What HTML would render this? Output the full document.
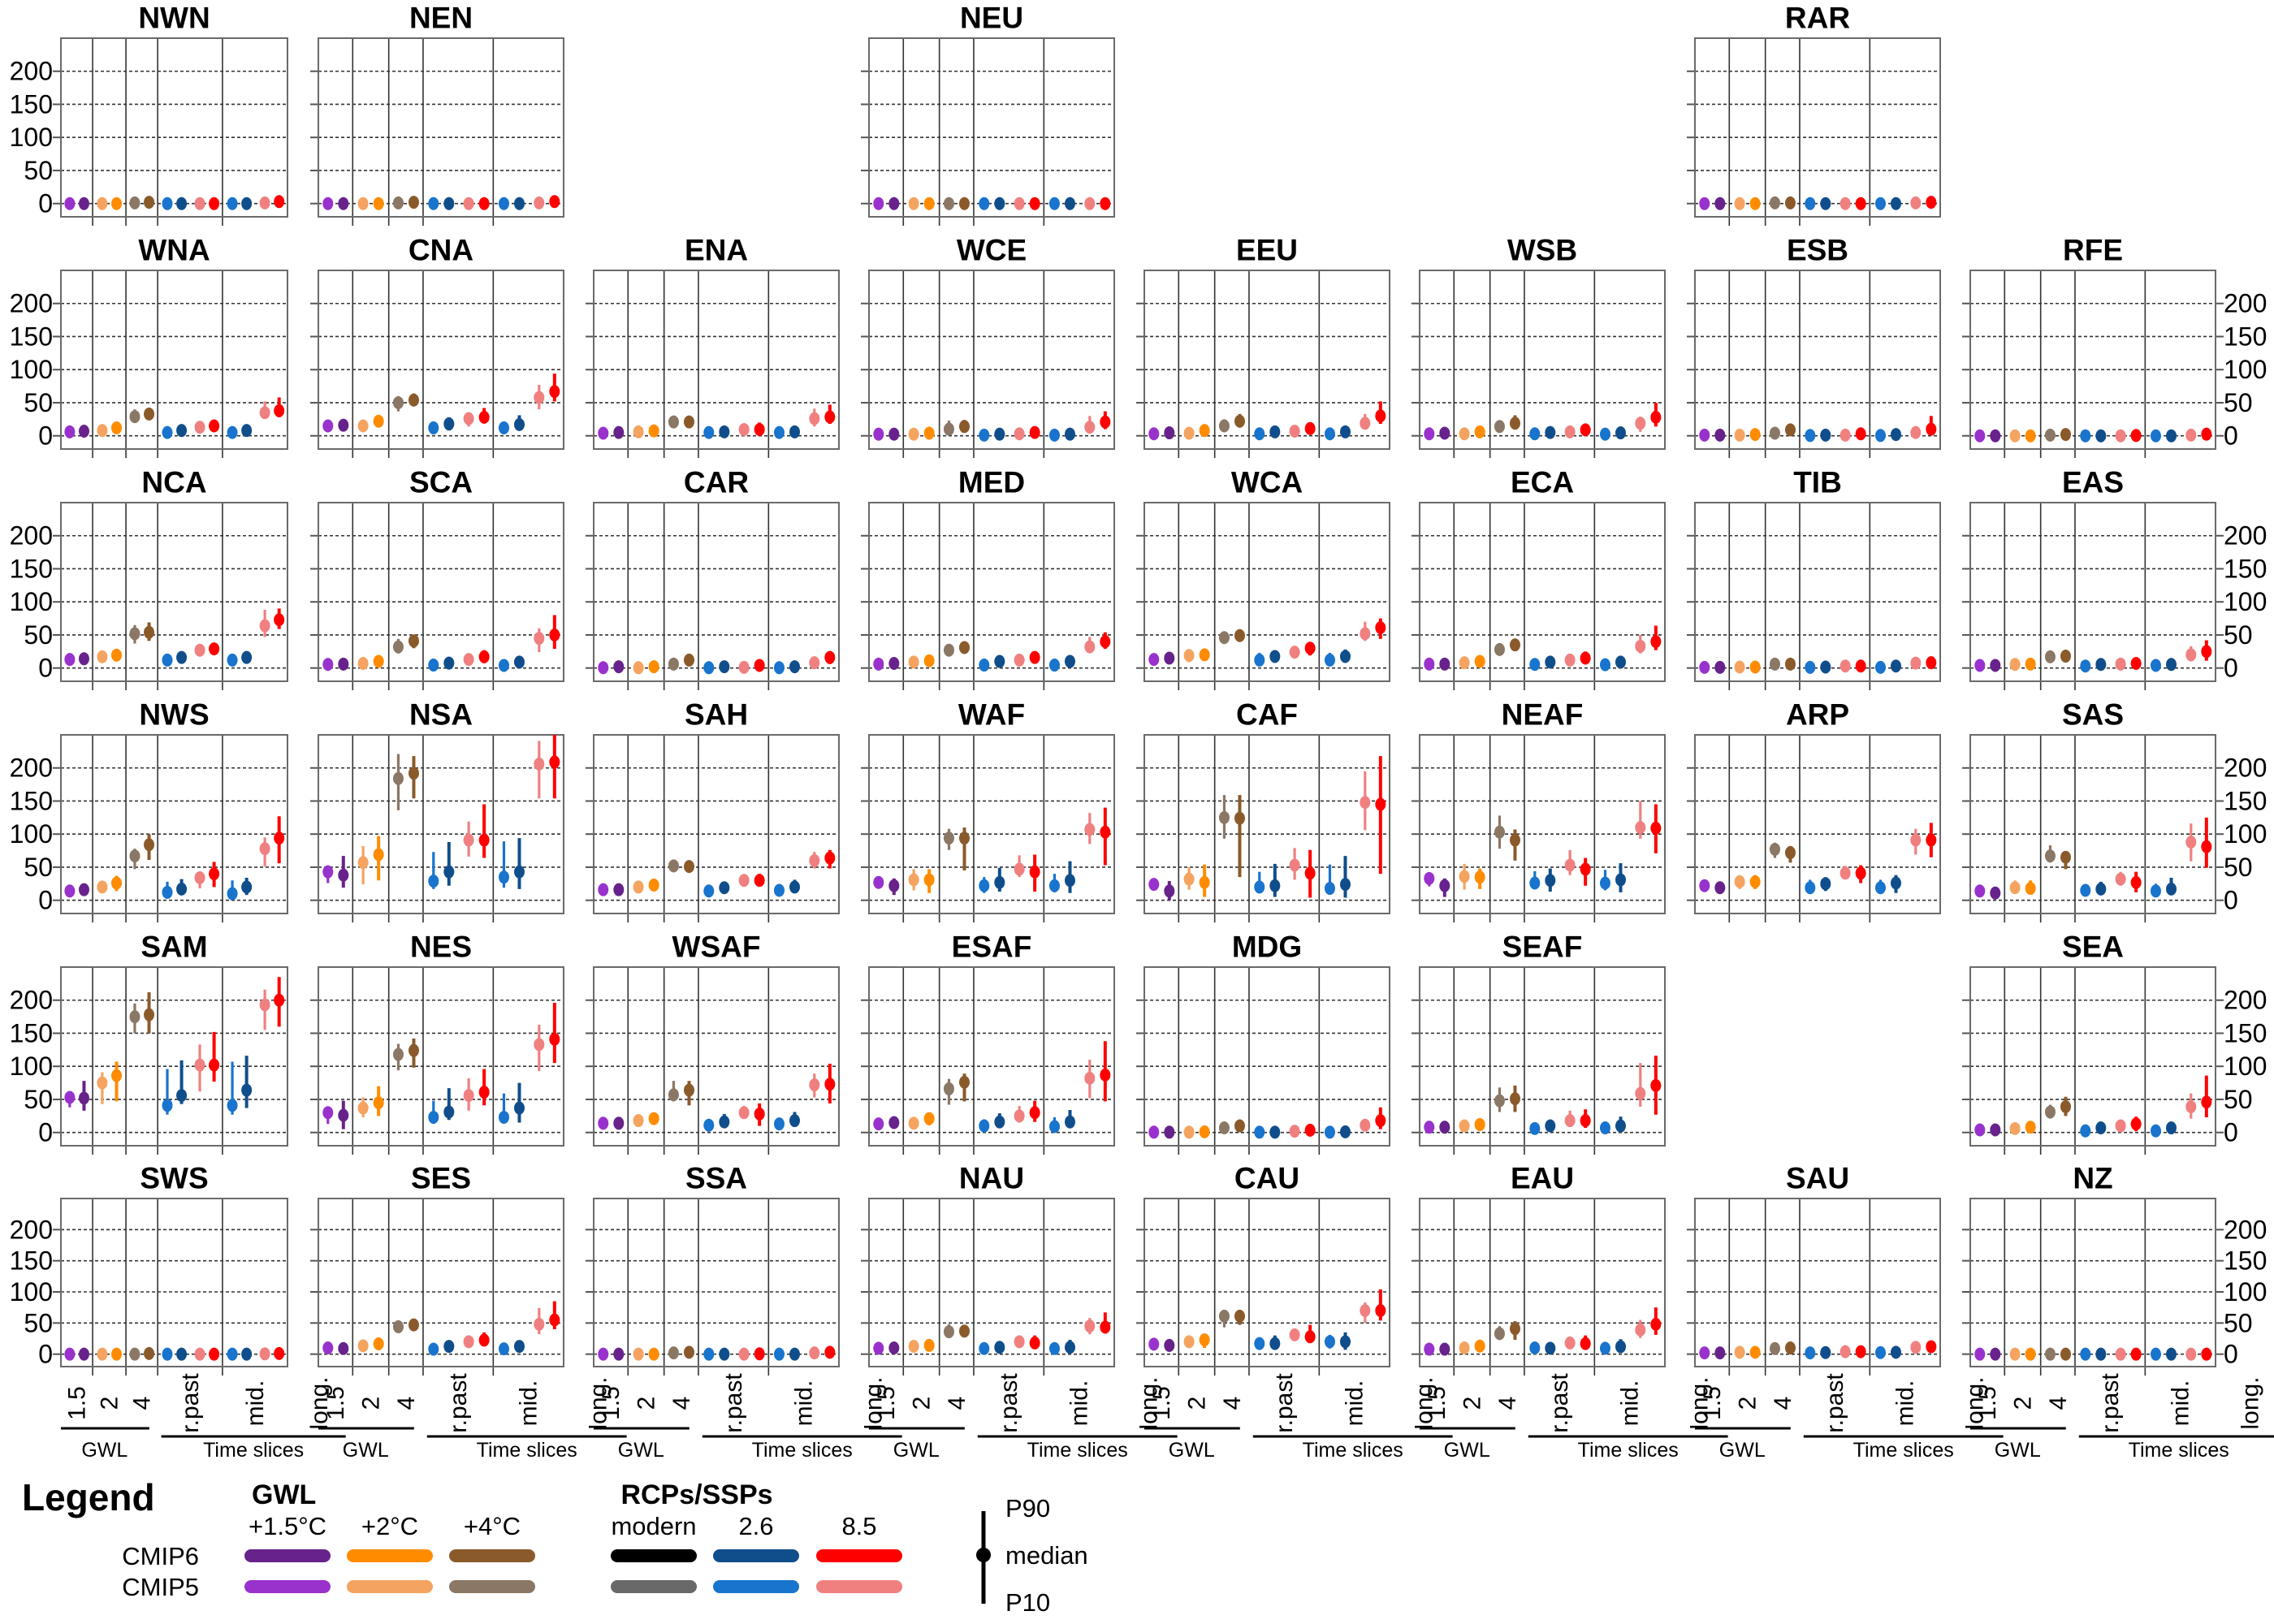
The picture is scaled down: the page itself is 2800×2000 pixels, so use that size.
<!DOCTYPE html>
<html><head><meta charset="utf-8"><title>Regional changes</title>
<style>
html,body{margin:0;padding:0;background:#fff;}
svg{display:block;font-family:"Liberation Sans",Arial,sans-serif;}
</style></head>
<body>
<svg id="chart" width="2800" height="2000" viewBox="0 0 2800 2000" xmlns="http://www.w3.org/2000/svg"></svg>
<script>
// ---------- data ----------
const regions = ["NWN","NEN","NEU","RAR","WNA","CNA","ENA","WCE","EEU","WSB","ESB","RFE","NCA","SCA","CAR","MED","WCA","ECA","TIB","EAS","NWS","NSA","SAH","WAF","CAF","NEAF","ARP","SAS","SAM","NES","WSAF","ESAF","MDG","SEAF","SEA","SWS","SES","SSA","NAU","CAU","EAU","SAU","NZ"];
const regionRow = [0,0,0,0,1,1,1,1,1,1,1,1,2,2,2,2,2,2,2,2,3,3,3,3,3,3,3,3,4,4,4,4,4,4,4,5,5,5,5,5,5,5,5];
const regionCol = [0,1,3,6,0,1,2,3,4,5,6,7,0,1,2,3,4,5,6,7,0,1,2,3,4,5,6,7,0,1,2,3,4,5,7,0,1,2,3,4,5,6,7];
const categories = ["GWL1.5 CMIP5","GWL1.5 CMIP6","GWL2 CMIP5","GWL2 CMIP6","GWL4 CMIP5","GWL4 CMIP6","r.past 2.6 CMIP5","r.past 2.6 CMIP6","r.past 8.5 CMIP5","r.past 8.5 CMIP6","mid 2.6 CMIP5","mid 2.6 CMIP6","mid 8.5 CMIP5","mid 8.5 CMIP6"];
const catColors = ["#9932CC","#68228B","#F4A460","#FF8C00","#8B7765","#8B5A2B","#1874CD","#104E8B","#F08080","#FF0000","#1874CD","#104E8B","#F08080","#FF0000"];
const catIsCmip6 = [0,1,0,1,0,1,0,1,0,1,0,1,0,1];
const yTicks = [0,50,100,150,200];
const yDomain = [-20,250];
const xLabels = ["1.5","2","4","r.past","mid.","long."];

const median = {
NWN:[0,0,0,0,1,2,0,0,0,0,0,0,1,3],
NEN:[0,0,0,0,1,2,0,0,0,0,0,0,1,3],
NEU:[0,0,0,0,0,0,0,0,0,0,0,0,0,0],
RAR:[0,0,0,0,1,1,0,0,0,0,0,0,1,2],
WNA:[6,7,8,12,29,33,5,8,13,15,5,8,35,38],
CNA:[15,16,15,22,50,54,12,18,26,28,12,17,58,67],
ENA:[4,5,6,7.5,21,21,5,6,9.5,9.5,5,6,26,28.5],
WCE:[2.5,2.5,2.5,4,10,14,1,2.5,3,5,1,2.5,13,21],
EEU:[3,4.5,4,8,15,22,3,6,7,11,3,6,19,30],
WSB:[3,4,3,6,14,19,3,5,6,9,2.5,4.5,19,28],
ESB:[1,1,1,2,4,9,0.5,1,1,3,0.5,2,5,10],
RFE:[0,0,0,0,1,2,0,0,0,0.5,0,0,1,2.5],
NCA:[13,14,17,19.5,52,54,12,16,27,29,12,16,64,73],
SCA:[5.5,6,7,10,32,41,4.5,7.5,13,17,4,9,45,50],
CAR:[0.5,2,0.5,2,6,12,0.5,2,1,4,0.5,2,8,16],
MED:[6,7,9,11,27,31,4.5,10,12,16,4.5,10,32,40],
WCA:[13,15,19,20,46,49,12,17.5,24,30,12,17.5,52,61],
ECA:[6,6,8,10,28,35,5.5,9,12,15,5,9,33,40],
TIB:[1,1,1.5,1.5,6,6,1,1.5,3,3,1,3,7.5,8],
EAS:[4,4,5.5,6,17,18,3,5.5,6,7,4,5.5,20,25],
NWS:[14,16,20,26,67,84,12,17,34,40,10,20,78,94],
NSA:[43,38,57,69,184,192,29,43,91,91,35,43,206,209],
SAH:[16,16,20,23,52,51,14,19,30,30,15,20,60,64],
WAF:[27,22,31,31,94,94,22,27,47,43,22,30,107,103],
CAF:[24,14,32,27,125,124,20,22,53,41,18,24,148,145],
NEAF:[33,22,36,35,103,91,26,30,53,47,26,31,110,109],
ARP:[22,19,28,28,77,72,19,25,41,41,19,26,91,91],
SAS:[14,11,19,18,67,65,15,17,32,27,14,17,88,81],
SAM:[53,52,75,86,175,178,41,56,102,102,41,64,193,200],
NES:[30,26,37,45,118,124,23,31,56,61,23,37,133,141],
WSAF:[14,14,18,21,57,64,11,16,30,28,13,18,72,73],
ESAF:[13,15,14,21,66,76,10,16,25,30,9,16,82,87],
MDG:[0.5,0.5,0.5,1,7,10,0.5,0.5,2,3.5,0.5,1,11,18],
SEAF:[8,8,10,12,48,51,6,10,18,18,7,10,59,71],
SEA:[4,4,6,8,31,39,2.5,7,10,13,2.5,7,39,46],
SWS:[0,0,0,0,0,1,0,0,0,0,0,0,0.5,1],
SES:[10,9,13.5,16.5,44,47,8,12.5,20,22.5,8.5,12.5,48,55],
SSA:[0,0,0,0,2,3,0,0,0,0.5,0,0,2,3],
NAU:[9.5,10,12.6,14,36,37,9,11,20,18,9,11,45,43.5],
CAU:[16,14,20,23,61,61,17,17,31,28,20,20,70,70],
EAU:[8,8,10,13,33,41,10,9.5,18,17,9.5,12,39,48],
SAU:[2,2,3,3,9,10,2,2.5,4,4,2.5,3,11,12],
NZ:[0,0,0,0,0,0,0,0,0,0,0,0,0,0]
};
const p10 = {
NWN:[-2,-2,-2,-2,-1,0,-2,-2,-2,-2,-2,-2,-1,0],
NEN:[-2,-2,-2,-2,-1,0,-2,-2,-2,-2,-2,-2,-1,0],
NEU:[-2,-2,-2,-2,-2,-2,-2,-2,-2,-2,-2,-2,-2,-2],
RAR:[-2,-2,-2,-2,-1,-1,-2,-2,-2,-2,-2,-2,-1,0],
WNA:[3,4,5,8,20,25,1,4,8,10,1,4,30,28],
CNA:[10,11,8,13,37,46,3,8,14,20,5,8,40,52],
ENA:[1,2,2,3,14,14,2,3,5,3,2,3,14,18],
WCE:[0,0,0,1,3,8,-1,0,0,2,-1,0,6,10],
EEU:[1,2,1,4,8,14,0,3,4,3,0,3,10,18],
WSB:[0,1,0,3,6,10,0,2,3,2,0,1,6,14],
ESB:[-1,-1,-1,0,1,3,-1,-1,-1,0,-1,0,0,4],
RFE:[-2,-2,-2,-2,-1,0,-2,-2,-2,-1,-2,-2,-1,0],
NCA:[10,11,12,14,37,41,8,12,23,25,8,10,47,59],
SCA:[3,3,4,6,22,30,1,2,7,8,-2,1,24,29],
CAR:[-2,-1,-2,-1,3,8,-2,-1,-2,1,-2,-1,2,6],
MED:[3,4,6,7,20,24,1,4,7,11,1,4,23,29],
WCA:[10,11,9,13,38,42,4,10,16,19,4,9,41,44],
ECA:[3,3,5,7,20,26,3,5,6,8,1,4,22,27],
TIB:[-1,-1,-1,-1,3,3,-1,-1,0,0,-1,0,4,5],
EAS:[1,1,3,3,12,12,0,2,3,2,1,2,10,11],
NWS:[11,12,15,14,47,61,5,8,18,20,5,8,51,56],
NSA:[26,19,24,30,136,154,17,22,66,64,19,17,154,154],
SAH:[10,10,13,14,45,42,9,11,24,21,7,12,48,48],
WAF:[18,8,15,11,76,45,11,13,35,13,12,11,85,53],
CAF:[15,0,16,5,93,35,11,5,31,4,11,4,106,40],
NEAF:[21,5,16,17,78,60,19,13,38,22,15,12,93,71],
ARP:[14,12,17,17,64,57,13,14,32,26,12,11,69,65],
SAS:[7,5,12,9,57,47,7,9,22,12,7,9,59,49],
SAM:[38,33,43,47,150,150,27,43,62,77,27,37,155,160],
NES:[13,5,23,25,94,98,13,19,33,41,14,15,93,105],
WSAF:[8,5,11,13,47,41,5,8,21,10,6,9,53,44],
ESAF:[5,7,7,11,42,47,3,9,15,16,2,8,52,47],
MDG:[-2,-2,-2,-1,3,4,-2,-2,-1,0,-2,-1,4,5],
SEAF:[4,1,5,6,31,31,1,5,11,7,0,3,39,27],
SEA:[1,1,3,4,21,25,-1,0,5,2,-1,0,21,23],
SWS:[-2,-2,-2,-2,-2,-1,-2,-2,-2,-2,-2,-2,-1,-1],
SES:[6,5,10,12,38,38,3,7,13,13,3,7,32,40],
SSA:[-2,-2,-2,-2,0,1,-2,-2,-2,-1,-2,-2,0,1],
NAU:[6,6,8,8,30,30,5,5,12,9,5,4,32,33],
CAU:[12,9,14,10,43,47,10,10,21,20,9,7,50,54],
EAU:[3,3,5,7,23,23,5,2,10,7,2,3,26,31],
SAU:[0,0,0,0,6,7,0,0,1,1,0,0,7,8],
NZ:[-2,-2,-2,-2,-2,-2,-2,-2,-2,-2,-2,-2,-2,-2]
};
const p90 = {
NWN:[2,2,2,2,3,4,2,2,2,2,2,2,4,7],
NEN:[2,2,2,2,3,4,2,2,2,2,2,2,4,7],
NEU:[2,2,2,2,2,2,2,2,2,2,2,2,2,2],
RAR:[2,2,2,2,3,3,2,2,2,2,2,2,3,4],
WNA:[9,10,12,17,40,39,9,12,18,20,9,12,52,58],
CNA:[19,21,23,30,60,64,20,28,33,42,20,31,77,94],
ENA:[7,8,10,12,29,29,8,9,14,20,8,9,41,47],
WCE:[5,5,5,7,23,24,3,5,6,8,3,5,30,37],
EEU:[6,7,7,12,25,33,6,9,10,20,6,9,33,52],
WSB:[6,7,6,9,23,31,6,8,9,17,5,8,29,50],
ESB:[3,3,3,4,7,16,2,3,3,6,2,4,14,30],
RFE:[2,2,2,2,3,4,2,2,2,3,2,2,3,5],
NCA:[16,17,26,25,65,69,16,20,31,33,16,25,88,90],
SCA:[8,9,10,14,44,49,8,14,18,27,10,18,60,80],
CAR:[3,5,3,5,9,17,3,5,4,7,3,5,14,25],
MED:[9,10,12,15,35,37,8,15,16,22,8,16,47,54],
WCA:[16,19,25,27,55,56,23,25,31,36,23,28,70,75],
ECA:[9,9,11,14,36,42,8,13,18,25,9,14,50,64],
TIB:[3,3,4,4,9,9,3,4,6,6,3,6,11,12],
EAS:[7,7,8,9,21,24,6,9,9,12,7,9,33,42],
NWS:[17,20,25,37,78,100,28,32,39,58,30,34,95,127],
NSA:[51,67,82,97,221,218,73,88,119,145,89,94,241,262],
SAH:[21,21,26,29,61,57,23,28,36,40,23,31,73,76],
WAF:[33,33,47,47,108,110,35,49,68,69,40,59,132,140],
CAF:[33,29,50,54,159,159,43,55,79,76,54,67,195,218],
NEAF:[38,33,55,48,128,107,44,48,76,64,46,56,150,145],
ARP:[27,27,38,38,87,82,31,35,52,53,31,38,108,117],
SAS:[19,17,30,30,83,73,24,28,43,43,25,34,116,125],
SAM:[59,78,91,107,195,212,96,109,133,152,107,116,216,235],
NES:[39,48,53,70,134,142,48,67,82,96,59,75,163,196],
WSAF:[20,22,26,30,78,78,20,28,40,44,22,31,89,104],
ESAF:[19,21,22,30,81,89,20,29,40,48,23,34,110,138],
MDG:[3,3,3,3,12,17,3,3,5,6,3,3,20,38],
SEAF:[12,14,15,20,68,71,11,18,33,35,14,24,105,116],
SEA:[7,7,9,11,42,54,6,14,15,24,6,14,59,86],
SWS:[2,2,2,2,2,3,2,2,2,2,2,2,3,3],
SES:[14,13,17,21,52,55,12,18,29,35,17,20,74,85],
SSA:[2,2,2,2,4,5,2,2,2,3,2,2,4,6],
NAU:[13,14,17,19,48,44,13,17,28,30,13,23,58,67],
CAU:[20,19,26,30,70,70,24,30,40,47,31,35,83,104],
EAU:[12,12,14,17,45,53,14,16,24,30,16,24,55,75],
SAU:[4,4,6,6,12,14,4,5,7,7,5,6,15,17],
NZ:[2,2,2,2,2,2,2,2,2,2,2,2,2,2]
};

// ---------- layout ----------
const NS = "http://www.w3.org/2000/svg";
const svg = document.getElementById("chart");
function mk(tag, attrs, parent){
  const e = document.createElementNS(NS, tag);
  for (const k in attrs) e.setAttribute(k, attrs[k]);
  (parent||svg).appendChild(e);
  return e;
}
function colLeft(c){ return c===0 ? 75 : 392 + 339*(c-1); }
function colWidth(c){ return c===0 ? 279 : 302; }
function rowTop(r){ return r===5 ? 1476 : 47 + 286*r; }
function rowHeight(r){ return r===5 ? 207 : 220; }
function yScale(v, r){
  const top = rowTop(r), h = rowHeight(r);
  const vv = Math.max(yDomain[0], Math.min(yDomain[1], v));
  return top + h - (vv - yDomain[0]) / (yDomain[1]-yDomain[0]) * h;
}
function xScale(i, c){
  const g = Math.floor(i/2);
  return colLeft(c) + colWidth(c) * (0.039 + i*0.063 + g*0.0175);
}
const sepFracs = [0.14,0.287,0.427,0.713];
const labelFracs = [0.07,0.2135,0.357,0.57,0.856,1.14];

// ---------- panels ----------
regions.forEach(function(name, k){
  const r = regionRow[k], c = regionCol[k];
  const L = colLeft(c), W = colWidth(c), T = rowTop(r), H = rowHeight(r);
  const g = mk("g", {});
  
  

  const t = mk("text", {x: L + W/2, y: T - 25, "text-anchor":"middle", "dominant-baseline":"central", "font-size":37, "font-weight":"bold", fill:"#000"}, g);
  t.textContent = name;
  
  

  yTicks.forEach(function(v){
    const y = yScale(v, r);
    const gl = mk("line", {x1:L, x2:L+W, y1:y, y2:y, stroke:"#333", "stroke-width":1.6, "stroke-dasharray":"4,3"}, g);
    
    
    const tk = mk("line", {x1:L-10, x2:L, y1:y, y2:y, stroke:"#555", "stroke-width":2}, g);
    
    
    if (c === 0) {
      const lb = mk("text", {x:L-10, y:y, "text-anchor":"end", "dominant-baseline":"central", "font-size":32, fill:"#000"}, g);
      lb.textContent = String(v);
      
      
    }
    if (c === 7 && r > 0) {
      const rt = mk("line", {x1:L+W, x2:L+W+10, y1:y, y2:y, stroke:"#555", "stroke-width":2}, g);
      
      
      const lb2 = mk("text", {x:L+W+10, y:y, "text-anchor":"start", "dominant-baseline":"central", "font-size":32, fill:"#000"}, g);
      lb2.textContent = String(v);
      
      
    }
  });

  sepFracs.forEach(function(f){
    const x = L + W*f;
    const sl = mk("line", {x1:x, x2:x, y1:T, y2:T+H+11, stroke:"#333", "stroke-width":1.6}, g);
    
    
  });

  const fr = mk("rect", {x:L, y:T, width:W, height:H, fill:"none", stroke:"#6a6a6a", "stroke-width":2}, g);
  
  

  const md = median[name], lo = p10[name], hi = p90[name];
  for (let i = 0; i < categories.length; i++){
    const x = xScale(i, c);
    const bar = mk("line", {x1:x, x2:x, y1:yScale(lo[i], r), y2:yScale(hi[i], r), stroke:catColors[i], "stroke-width": catIsCmip6[i] ? 4 : 3.2}, g);
    
    
    const dot = mk("ellipse", {cx:x, cy:yScale(md[i], r), rx:6.5, ry:8, fill:catColors[i]}, g);
    
    
  }

  if (r === 5) {
    xLabels.forEach(function(lbl, j){
      const x = L + W*labelFracs[j];
      const tx = mk("text", {x:0, y:0, transform:"translate(" + (x+10) + ",1728) rotate(-90)", "text-anchor":"middle", "font-size":30, fill:"#000"}, g);
      tx.textContent = lbl;
      
      
    });
    const gwlLine = mk("line", {x1:L, x2:L+W*0.39, y1:1759, y2:1759, stroke:"#000", "stroke-width":3}, g);
    
    
    const tsLine = mk("line", {x1:L+W*0.443, x2:L+W*1.257, y1:1769, y2:1769, stroke:"#000", "stroke-width":3}, g);
    
    
    const gt = mk("text", {x:L+W*0.193, y:1786, "text-anchor":"middle", "dominant-baseline":"central", "font-size":25, fill:"#000"}, g);
    gt.textContent = "GWL";
    
    
    const tt = mk("text", {x:L+W*0.85, y:1786, "text-anchor":"middle", "dominant-baseline":"central", "font-size":25, fill:"#000"}, g);
    tt.textContent = "Time slices";
    
    
  }
});
</script>

<svg width="2800" height="2000" style="position:absolute;left:0;top:0" xmlns="http://www.w3.org/2000/svg" font-family="Liberation Sans, Arial, sans-serif">
  <text x="27" y="1860" font-size="46" font-weight="bold">Legend</text>
  <text x="310" y="1852" font-size="34" font-weight="bold">GWL</text>
  <text x="858" y="1852" font-size="34" font-weight="bold" text-anchor="middle">RCPs/SSPs</text>
  <g font-size="31" text-anchor="middle">
    <text x="354" y="1890">+1.5°C</text>
    <text x="480" y="1890">+2°C</text>
    <text x="606" y="1890">+4°C</text>
    <text x="805" y="1890">modern</text>
    <text x="931" y="1890">2.6</text>
    <text x="1058" y="1890">8.5</text>
  </g>
  <text x="245" y="1927" font-size="31" text-anchor="end">CMIP6</text>
  <text x="245" y="1965" font-size="31" text-anchor="end">CMIP5</text>
  <rect x="301" y="1908" width="106" height="16" rx="8" fill="#68228B"/>
  <rect x="427" y="1908" width="106" height="16" rx="8" fill="#FF8C00"/>
  <rect x="553" y="1908" width="106" height="16" rx="8" fill="#8B5A2B"/>
  <rect x="752" y="1908" width="106" height="16" rx="8" fill="#000000"/>
  <rect x="878" y="1908" width="106" height="16" rx="8" fill="#104E8B"/>
  <rect x="1005" y="1908" width="106" height="16" rx="8" fill="#FF0000"/>
  <rect x="301" y="1946" width="106" height="16" rx="8" fill="#9932CC"/>
  <rect x="427" y="1946" width="106" height="16" rx="8" fill="#F4A460"/>
  <rect x="553" y="1946" width="106" height="16" rx="8" fill="#8B7765"/>
  <rect x="752" y="1946" width="106" height="16" rx="8" fill="#696969"/>
  <rect x="878" y="1946" width="106" height="16" rx="8" fill="#1874CD"/>
  <rect x="1005" y="1946" width="106" height="16" rx="8" fill="#F08080"/>
  <line x1="1211" x2="1211" y1="1861" y2="1975" stroke="#000" stroke-width="5"/>
  <circle cx="1211" cy="1915" r="9" fill="#000"/>
  <text x="1238" y="1868" font-size="31">P90</text>
  <text x="1238" y="1926" font-size="31">median</text>
  <text x="1238" y="1984" font-size="31">P10</text>
</svg>
</body></html>
